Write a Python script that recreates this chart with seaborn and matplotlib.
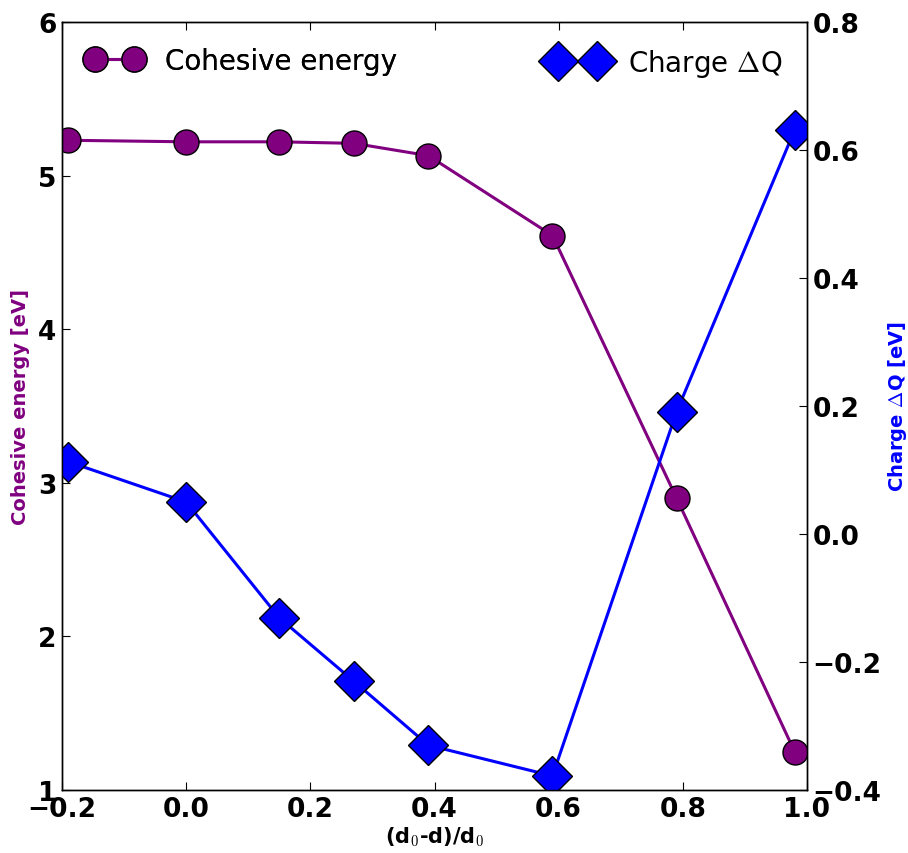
import numpy as np
import pandas as pd
import matplotlib
matplotlib.use("Agg")
import matplotlib.pyplot as plt
import seaborn as sns

x_vals = [-0.19, 0.0, 0.15, 0.27, 0.39, 0.59, 0.79, 0.98]
cohesive = [5.23, 5.22, 5.22, 5.21, 5.13, 4.61, 2.90, 1.25]
charge = [0.113, 0.050, -0.131, -0.230, -0.330, -0.378, 0.191, 0.631]

df = pd.DataFrame({"x": x_vals, "cohesive": cohesive, "charge": charge})

sns.set_style("ticks", {"xtick.direction": "in", "ytick.direction": "in"})
plt.rcParams["font.family"] = ["DejaVu Sans"]
plt.rcParams["mathtext.fontset"] = "cm"
plt.rcParams["axes.unicode_minus"] = True

fig = plt.figure(figsize=(9.08, 8.54), dpi=100)
ax = fig.add_axes([62/908, 1 - 791/854, 745/908, 768/854])
ax2 = ax.twinx()

purple = "#800080"
blue = "#0000ff"

sns.lineplot(data=df, x="x", y="cohesive", ax=ax, color=purple, lw=2.2,
             marker="o", markersize=18, markeredgecolor="black",
             markeredgewidth=1, markerfacecolor=purple,
             label="Cohesive energy", legend=False)
sns.lineplot(data=df, x="x", y="charge", ax=ax2, color=blue, lw=2.2,
             marker="D", markersize=20, markeredgecolor="black",
             markeredgewidth=1, markerfacecolor=blue,
             label=r"Charge $\Delta$Q", legend=False)

ax.set_xlim(-0.2, 1.0)
ax.set_ylim(1, 6)
ax2.set_ylim(-0.4, 0.8)
ax.set_xticks([-0.2, 0.0, 0.2, 0.4, 0.6, 0.8, 1.0])
ax.set_yticks([1, 2, 3, 4, 5, 6])
ax2.set_yticks([-0.4, -0.2, 0.0, 0.2, 0.4, 0.6, 0.8])

for a in (ax, ax2):
    for s in a.spines.values():
        s.set_visible(True)
        s.set_linewidth(1.0)
        s.set_color("black")

ax.tick_params(axis="x", which="both", top=True, direction="in", length=6,
               labelsize=19, pad=4, colors="black")
ax.tick_params(axis="y", which="both", left=True, right=False, direction="in",
               length=6, labelsize=19, pad=4, colors="black")
ax2.tick_params(axis="y", direction="in", length=6, labelsize=19, pad=4,
                colors="black")
for lab in ax.get_xticklabels() + ax.get_yticklabels() + ax2.get_yticklabels():
    lab.set_fontweight("bold")

ax.set_xlabel(r"(d$_0$-d)/d$_0$", fontsize=15, fontweight="bold",
              color="black", labelpad=2)
ax.set_ylabel("Cohesive energy [eV]", fontsize=14, fontweight="bold",
              color=purple, labelpad=6)
ax2.set_ylabel(r"Charge $\Delta$Q [eV]", fontsize=14, fontweight="bold",
               color=blue, labelpad=3)

h1, l1 = ax.get_legend_handles_labels()
h2, l2 = ax2.get_legend_handles_labels()
leg1 = ax.legend(h1, l1, loc="upper left", frameon=False, numpoints=2,
                 fontsize=20, handlelength=2.0, borderaxespad=0.5,
                 labelcolor="black")
ax.add_artist(leg1)
ax2.legend(h2, l2, loc="upper right", frameon=False, numpoints=2,
           fontsize=20, handlelength=2.0, borderaxespad=0.5,
           labelcolor="black")

fig.savefig("out.png", dpi=100)
